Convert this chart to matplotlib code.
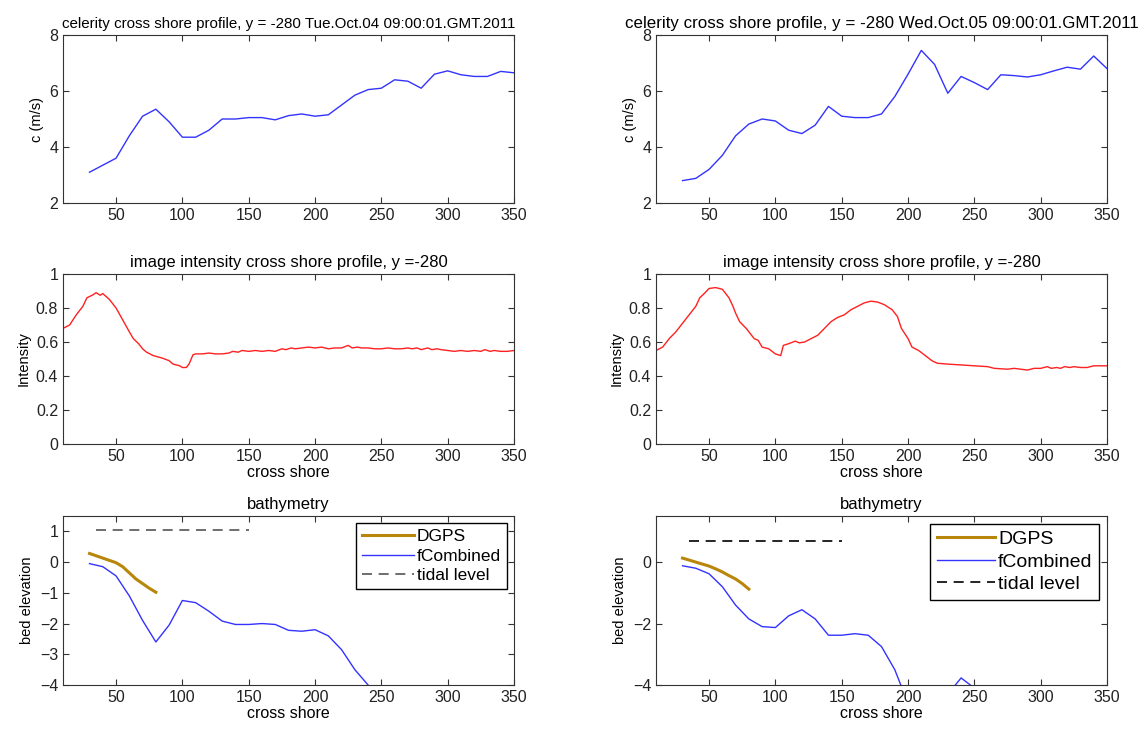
import numpy as np
import matplotlib.pyplot as plt

plt.rcParams['font.family'] = ['Liberation Sans', 'DejaVu Sans']

# celerity profiles
xc = [30, 40, 50, 60, 70, 80, 90, 100, 110, 120, 130, 140, 150, 160, 170, 180, 190,
      200, 210, 220, 230, 240, 250, 260, 270, 280, 290, 300, 310, 320, 330, 340, 350]
c1 = [3.1, 3.35, 3.6, 4.4, 5.1, 5.35, 4.9, 4.35, 4.35, 4.6, 5.0, 5.0, 5.05, 5.05, 4.97,
      5.12, 5.18, 5.1, 5.15, 5.5, 5.85, 6.05, 6.1, 6.4, 6.35, 6.1, 6.6, 6.72, 6.58, 6.52,
      6.52, 6.7, 6.65]
c2 = [2.8, 2.88, 3.2, 3.7, 4.4, 4.82, 5.0, 4.93, 4.6, 4.48, 4.78, 5.45, 5.1, 5.05, 5.05,
      5.18, 5.8, 6.6, 7.45, 6.95, 5.92, 6.52, 6.3, 6.05, 6.58, 6.55, 6.5, 6.58, 6.72, 6.85,
      6.78, 7.25, 6.8]

# image intensity profiles
xi1 = [10, 15, 20, 25, 28, 32, 35, 38, 40, 45, 50, 55, 60, 63, 67, 70, 73, 78, 85, 90,
       93, 98, 100, 103, 105, 108, 110, 115, 120, 125, 130, 135, 138, 142, 145, 150, 155,
       160, 165, 170, 175, 178, 182, 185, 190, 195, 200, 205, 210, 215, 220, 225, 228,
       232, 235, 240, 245, 250, 255, 260, 265, 270, 273, 277, 280, 285, 288, 292, 295,
       300, 305, 310, 315, 320, 325, 328, 332, 335, 340, 345, 350]
i1 = [0.68, 0.70, 0.76, 0.81, 0.86, 0.875, 0.89, 0.875, 0.885, 0.85, 0.80, 0.73, 0.66,
      0.62, 0.59, 0.56, 0.54, 0.52, 0.505, 0.49, 0.47, 0.46, 0.45, 0.45, 0.47, 0.525,
      0.53, 0.53, 0.535, 0.53, 0.53, 0.535, 0.545, 0.54, 0.55, 0.545, 0.55, 0.545, 0.55,
      0.545, 0.56, 0.555, 0.565, 0.56, 0.565, 0.57, 0.565, 0.57, 0.56, 0.565, 0.565, 0.58,
      0.565, 0.57, 0.565, 0.565, 0.56, 0.56, 0.565, 0.56, 0.56, 0.565, 0.56, 0.565, 0.555,
      0.565, 0.555, 0.56, 0.555, 0.55, 0.545, 0.55, 0.545, 0.55, 0.545, 0.555, 0.545,
      0.55, 0.545, 0.545, 0.55]
xi2 = [10, 15, 20, 25, 30, 35, 40, 43, 47, 50, 55, 60, 65, 68, 70, 73, 78, 82, 84, 87,
       90, 95, 100, 104, 106, 110, 115, 118, 122, 127, 132, 137, 142, 147, 152, 157, 162,
       167, 172, 177, 182, 188, 192, 195, 200, 203, 208, 213, 218, 222, 230, 240, 250,
       260, 265, 275, 280, 290, 295, 300, 305, 308, 312, 315, 318, 322, 325, 330, 335,
       340, 345, 350]
i2 = [0.55, 0.57, 0.62, 0.66, 0.71, 0.76, 0.81, 0.86, 0.89, 0.915, 0.92, 0.91, 0.86, 0.81,
      0.77, 0.72, 0.68, 0.64, 0.62, 0.61, 0.57, 0.56, 0.53, 0.52, 0.58, 0.59, 0.605, 0.595,
      0.60, 0.62, 0.64, 0.68, 0.72, 0.745, 0.76, 0.79, 0.81, 0.83, 0.84, 0.835, 0.82, 0.79,
      0.75, 0.68, 0.62, 0.57, 0.55, 0.52, 0.49, 0.475, 0.47, 0.465, 0.46, 0.455, 0.445,
      0.44, 0.445, 0.435, 0.445, 0.445, 0.455, 0.445, 0.45, 0.445, 0.455, 0.45, 0.455,
      0.45, 0.45, 0.46, 0.46, 0.46]

# bathymetry
xd = [30, 40, 50, 55, 60, 65, 70, 75, 80]
dgps1 = [0.28, 0.13, -0.02, -0.15, -0.35, -0.55, -0.7, -0.85, -0.98]
dgps2 = [0.13, 0.0, -0.13, -0.22, -0.32, -0.44, -0.55, -0.7, -0.88]
xb = [30, 40, 50, 60, 70, 80, 90, 100, 110, 120, 130, 140, 150, 160, 170, 180, 190, 200,
      210, 220, 230, 240, 250, 260]
fc1 = [-0.05, -0.15, -0.45, -1.1, -1.9, -2.6, -2.05, -1.25, -1.32, -1.6, -1.92, -2.03,
       -2.03, -2.0, -2.03, -2.22, -2.25, -2.2, -2.4, -2.85, -3.5, -4.0, -4.6, -5.0]
fc2 = [-0.12, -0.2, -0.38, -0.8, -1.4, -1.85, -2.1, -2.13, -1.75, -1.55, -1.85, -2.38,
       -2.38, -2.33, -2.38, -2.75, -3.5, -4.6, -5.0, -4.8, -4.3, -3.77, -4.1, -4.5]
xt = [35, 150]
tide1 = [1.03, 1.03]
tide2 = [0.7, 0.7]

dates = ['Tue.Oct.04 09:00:01.GMT.2011', 'Wed.Oct.05 09:00:01.GMT.2011']

W, H = 1141, 731
fig = plt.figure(figsize=(W / 100, H / 100), dpi=100)
lefts = [63, 656]
width = 451
rows = [(35, 203), (274, 444), (516, 685)]


def mkax(col, row):
    l = lefts[col]
    t, b = rows[row]
    ax = fig.add_axes([l / W, 1 - b / H, width / W, (b - t) / H])
    ax.tick_params(direction='in', top=True, right=True, labelsize=11.5, length=4,
                   color='#333333', labelcolor='#222222')
    for s in ax.spines.values():
        s.set_color('#333333')
    ax.set_xlim(10, 350)
    ax.set_xticks([50, 100, 150, 200, 250, 300, 350])
    return ax


for col, (cc, xi, ii, dg, fc, td) in enumerate([(c1, xi1, i1, dgps1, fc1, tide1),
                                                 (c2, xi2, i2, dgps2, fc2, tide2)]):
    ax = mkax(col, 0)
    ax.plot(xc, cc, color='#3333ff', lw=1)
    ax.set_ylim(2, 8)
    ax.set_yticks([2, 4, 6, 8])
    ax.set_ylabel('c (m/s)', fontsize=10.5)
    ax.set_title('celerity cross shore profile, y = -280 ' + dates[col],
                 fontsize=10.9 if col == 0 else 12.2, pad=5)

    ax = mkax(col, 1)
    ax.plot(xi, ii, color='#ff2020', lw=1)
    ax.set_ylim(0, 1)
    ax.set_yticks([0, 0.2, 0.4, 0.6, 0.8, 1])
    ax.set_yticklabels(['0', '0.2', '0.4', '0.6', '0.8', '1'])
    ax.set_ylabel('Intensity', fontsize=10.5)
    ax.set_xlabel('cross shore', fontsize=11.5, labelpad=1)
    ax.set_title('image intensity cross shore profile, y =-280', fontsize=12, pad=5)

    ax = mkax(col, 2)
    ax.plot(xd, dg, color='#b8860b', lw=2.2, label='DGPS')
    ax.plot(xb, fc, color='#3333ff', lw=1, label='fCombined')
    ax.plot(xt, td, color='#555555' if col == 0 else 'k', lw=1.2, ls=(0, (6, 4)),
            label='tidal level')
    ax.set_ylim(-4, 1.5)
    if col == 0:
        ax.set_yticks([-4, -3, -2, -1, 0, 1])
    else:
        ax.set_yticks([-4, -2, 0])
    ax.set_ylabel('bed elevation', fontsize=10.5)
    ax.set_xlabel('cross shore', fontsize=11.5, labelpad=1)
    ax.set_title('bathymetry', fontsize=12, pad=5)
    leg = ax.legend(loc='upper right', fontsize=12.5 if col == 0 else 14, fancybox=False,
                    framealpha=1, edgecolor='k', handlelength=3.0, borderpad=0.35,
                    labelspacing=0.25, handletextpad=0.15, borderaxespad=0.4)
    leg.get_frame().set_linewidth(1.0)

fig.savefig('out.png', dpi=100)
